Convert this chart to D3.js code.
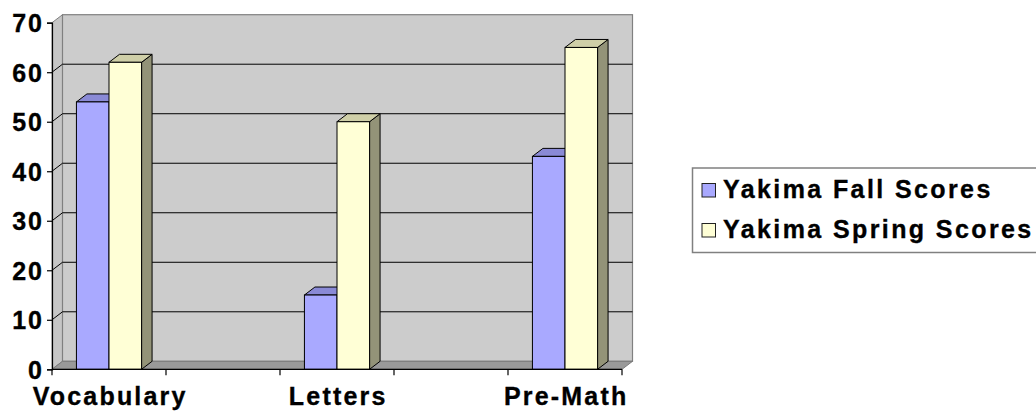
<!DOCTYPE html>
<html>
<head>
<meta charset="utf-8">
<script src="https://cdn.jsdelivr.net/npm/d3@7"></script>
<style>
  body { margin: 0; background: #fff; }
  svg { display: block; }
  text { font-family: "Liberation Sans", Arial, sans-serif; font-weight: bold; fill: #000; }
</style>
</head>
<body>
<svg id="chart" width="1036" height="413"></svg>
<script>
// Categories (blank slots keep the gaps between the three groups)
const categories = ["Vocabulary", "", "Letters", "", "Pre-Math"];
const seriesNames = ["Yakima Fall Scores", "Yakima Spring Scores"];
const fallScores = [54, null, 15, null, 43];
const springScores = [62, null, 50, null, 65];
const yTicks = [0, 10, 20, 30, 40, 50, 60, 70];

const seriesValues = [fallScores, springScores];
const seriesColors = [
  { front: "#a9a9ff", top: "#8a8ad6", side: "#7c7cc2" },
  { front: "#ffffd6", top: "#cfcfa8", side: "#939378" }
];

const svg = d3.select("#chart");

// Plot geometry: front plane plus a 3-D depth offset
const left = 52, right = 622, base = 369.3, topY = 22.7;
const dx = 10.5, dy = -8;

const y = d3.scaleLinear().domain([0, 70]).range([base, topY]);
const x0 = d3.scaleBand().domain(d3.range(categories.length)).range([left, right]).padding(0);
const x1 = d3.scaleBand().domain(d3.range(seriesNames.length)).range([0, x0.bandwidth()])
  .paddingInner(0).paddingOuter(0.75);

const poly = pts => pts.map(p => p.join(",")).join(" ");

// Left side wall
svg.append("polygon")
  .attr("points", poly([[left, base], [left, y(70)], [left + dx, y(70) + dy], [left + dx, base + dy]]))
  .attr("fill", "#c6c6c6").attr("stroke", "#808080").attr("stroke-width", 1);

// Back wall
svg.append("rect")
  .attr("x", left + dx).attr("y", y(70) + dy)
  .attr("width", right - left).attr("height", y(0) - y(70))
  .attr("fill", "#cccccc").attr("stroke", "#808080").attr("stroke-width", 1.2);

// Floor
svg.append("polygon")
  .attr("points", poly([[left, base], [right, base], [right + dx, base + dy], [left + dx, base + dy]]))
  .attr("fill", "#999999").attr("stroke", "#7a7a7a").attr("stroke-width", 1);

// Gridlines on back wall and left wall
const gridVals = yTicks.filter(v => v > 0 && v < 70);
svg.append("g").selectAll("line.back").data(gridVals).join("line")
  .attr("x1", left + dx).attr("x2", right + dx)
  .attr("y1", d => y(d) + dy).attr("y2", d => y(d) + dy)
  .attr("stroke", "#000").attr("stroke-width", 1);
svg.append("g").selectAll("line.side").data(gridVals).join("line")
  .attr("x1", left).attr("x2", left + dx)
  .attr("y1", d => y(d)).attr("y2", d => y(d) + dy)
  .attr("stroke", "#000").attr("stroke-width", 1);

// Bars
const barG = svg.append("g");
categories.forEach((c, ci) => {
  seriesValues.forEach((vals, si) => {
    const v = vals[ci];
    if (v == null) return;
    const bx = x0(ci) + x1(si);
    const w = x1.bandwidth();
    const yt = y(v);
    const col = seriesColors[si];
    barG.append("polygon")
      .attr("points", poly([[bx + w, yt], [bx + w + dx, yt + dy], [bx + w + dx, base + dy], [bx + w, base]]))
      .attr("fill", col.side).attr("stroke", "#000").attr("stroke-width", 1).attr("stroke-linejoin", "round");
    barG.append("polygon")
      .attr("points", poly([[bx, yt], [bx + dx, yt + dy], [bx + w + dx, yt + dy], [bx + w, yt]]))
      .attr("fill", col.top).attr("stroke", "#000").attr("stroke-width", 1).attr("stroke-linejoin", "round");
    barG.append("rect")
      .attr("x", bx).attr("y", yt).attr("width", w).attr("height", base - yt)
      .attr("fill", col.front).attr("stroke", "#000").attr("stroke-width", 1);
  });
});

// Shared label styling
const labelStyle = (sel, spacing) => sel
  .attr("font-size", 25)
  .attr("font-family", "'Liberation Sans', Arial, sans-serif")
  .attr("font-weight", "bold")
  .attr("letter-spacing", spacing + "px")
  .attr("fill", "#000")
  .attr("stroke", "#000").attr("stroke-width", 0.35);

// Value axis
const yAxis = d3.axisLeft(y).tickValues(yTicks).tickSize(5).tickPadding(6).tickFormat(d3.format("d"));
const yg = svg.append("g").attr("transform", `translate(${left},0)`).call(yAxis);
yg.select(".domain").attr("stroke", "#000").attr("stroke-width", 1.2);
yg.selectAll(".tick line").attr("stroke", "#000").attr("stroke-width", 1.2);
yg.selectAll(".tick text").call(labelStyle, 2).attr("dx", "3px").attr("dy", "0.36em");

// Category axis
const boundaries = d3.range(categories.length + 1).map(i => left + i * x0.step());
const xg = svg.append("g");
xg.append("line").attr("x1", left).attr("x2", right).attr("y1", base).attr("y2", base)
  .attr("stroke", "#000").attr("stroke-width", 1.2);
xg.selectAll("line.tk").data(boundaries).join("line")
  .attr("x1", d => d).attr("x2", d => d).attr("y1", base).attr("y2", base + 6)
  .attr("stroke", "#000").attr("stroke-width", 1.2);
xg.selectAll("text").data(categories).join("text")
  .attr("x", (d, i) => x0(i) + x0.bandwidth() / 2 + 1.2)
  .attr("y", 405)
  .attr("text-anchor", "middle")
  .call(labelStyle, 2.2)
  .text(d => d);

// Legend
const lg = svg.append("g");
lg.append("rect").attr("x", 692.5).attr("y", 168).attr("width", 400).attr("height", 84.5)
  .attr("fill", "#fff").attr("stroke", "#808080").attr("stroke-width", 1.5);
seriesNames.forEach((name, i) => {
  const rowY = 183.5 + i * 40;
  lg.append("rect").attr("x", 702).attr("y", rowY).attr("width", 13.5).attr("height", 13.5)
    .attr("fill", seriesColors[i].front).attr("stroke", "#222").attr("stroke-width", 1);
  lg.append("text").attr("x", 723).attr("y", rowY + 7 + 7.5)
    .call(labelStyle, 2.4).text(name);
});
</script>
</body>
</html>
